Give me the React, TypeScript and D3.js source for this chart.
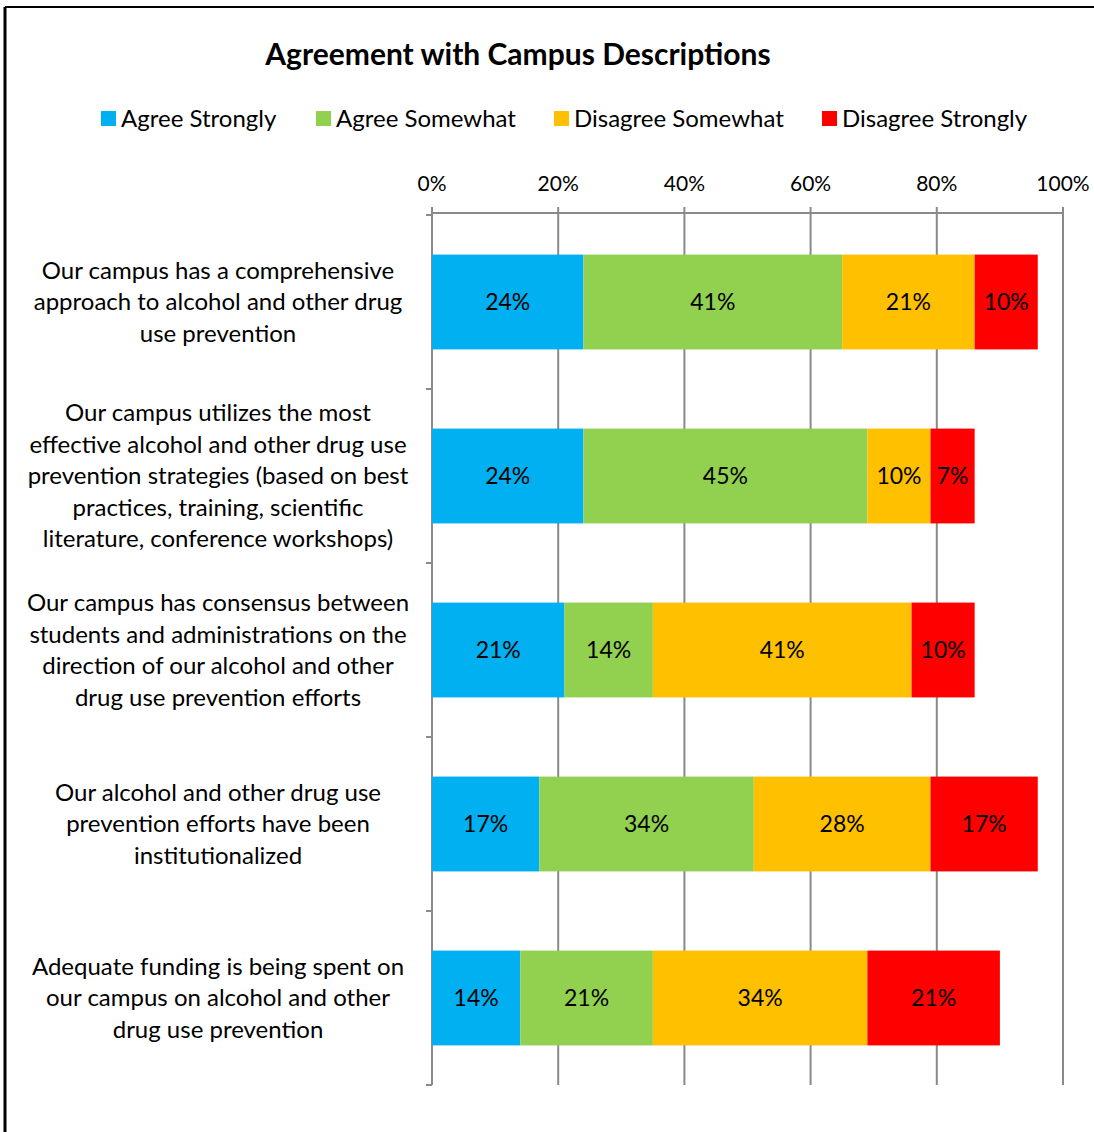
import React from "react";
import * as d3 from "d3";

const categories: string[][] = [
  ["Our campus has a comprehensive", "approach to alcohol and other drug", "use prevention"],
  [
    "Our campus utilizes the most",
    "effective alcohol and other drug use",
    "prevention strategies (based on best",
    "practices, training, scientific",
    "literature, conference workshops)",
  ],
  [
    "Our campus has consensus between",
    "students and administrations on the",
    "direction of our alcohol and other",
    "drug use prevention efforts",
  ],
  ["Our alcohol and other drug use", "prevention efforts have been", "institutionalized"],
  ["Adequate funding is being spent on", "our campus on alcohol and other", "drug use prevention"],
];

const seriesNames = ["Agree Strongly", "Agree Somewhat", "Disagree Somewhat", "Disagree Strongly"];
const agreeStrongly = [24, 24, 21, 17, 14];
const agreeSomewhat = [41, 45, 14, 34, 21];
const disagreeSomewhat = [21, 10, 41, 28, 34];
const disagreeStrongly = [10, 7, 10, 17, 21];
const seriesColors = ["#00B0F0", "#92D050", "#FFC000", "#FF0000"];
const xTicks = [0, 20, 40, 60, 80, 100];

const FONT = "Lato, 'Open Sans', sans-serif";

export default function App() {
  const W = 1094;
  const H = 1132;
  const x = d3.scaleLinear().domain([0, 100]).range([432, 1063]);
  const idx = categories.map((_, i) => String(i));
  const y = d3.scaleBand().domain(idx).range([215, 1085]).paddingInner(0.455).paddingOuter(0.2275);
  const bandStep = y.step();
  const rows = categories.map((_, i) => ({
    i: String(i),
    v0: agreeStrongly[i],
    v1: agreeSomewhat[i],
    v2: disagreeSomewhat[i],
    v3: disagreeStrongly[i],
  }));
  const stack = d3.stack<any>().keys(["v0", "v1", "v2", "v3"]);
  const stacked = stack(rows);
  const gridColor = "#8a8a8a";
  const boundaries = d3.range(categories.length + 1).map((k) => 215 + k * bandStep);

  const legendX = [101, 316, 554, 822];

  return (
    <svg
      width={W}
      height={H}
      style={{ position: "absolute", left: 0, top: 0, background: "#fff" }}
      fontFamily={FONT}
    >
      <rect x={0} y={0} width={W} height={H} fill="#fff" />
      {/* border */}
      <line x1={5} y1={7} x2={W} y2={7} stroke="#000" strokeWidth={2} />
      <line x1={5} y1={7} x2={5} y2={H} stroke="#000" strokeWidth={3} />

      <text x={518} y={65} textAnchor="middle" fontSize={30} fontWeight="bold" fill="#000">
        Agreement with Campus Descriptions
      </text>

      {seriesNames.map((name, k) => (
        <g key={name}>
          <rect x={legendX[k]} y={111} width={15} height={15} fill={seriesColors[k]} />
          <text x={legendX[k] + 20} y={127} fontSize={24} fill="#000">
            {name}
          </text>
        </g>
      ))}

      {/* gridlines */}
      {xTicks.map((t) => (
        <g key={t}>
          <line x1={x(t)} x2={x(t)} y1={207} y2={1085} stroke={gridColor} strokeWidth={2} />
          <text x={x(t)} y={191} textAnchor="middle" fontSize={21} fill="#000">
            {t}%
          </text>
        </g>
      ))}
      <line x1={x(0)} x2={x(100)} y1={213} y2={213} stroke={gridColor} strokeWidth={2} />
      {/* left axis ticks */}
      {boundaries.map((b, k) => (
        <line key={k} x1={426} x2={x(0)} y1={b} y2={b} stroke={gridColor} strokeWidth={2} />
      ))}

      {stacked.map((s, k) =>
        s.map((d: any, j: number) => (
          <g key={`${k}-${j}`}>
            <rect
              x={x(d[0])}
              y={y(String(j))}
              width={x(d[1]) - x(d[0])}
              height={y.bandwidth()}
              fill={seriesColors[k]}
            />
            <text
              x={(x(d[0]) + x(d[1])) / 2}
              y={(y(String(j)) as number) + y.bandwidth() / 2}
              dy="0.35em"
              textAnchor="middle"
              fontSize={23}
              fill="#000"
            >
              {`${d[1] - d[0]}%`}
            </text>
          </g>
        ))
      )}

      {categories.map((lines, j) => {
        const cy = (y(String(j)) as number) + y.bandwidth() / 2;
        const lh = 31.5;
        const start = cy - ((lines.length - 1) * lh) / 2;
        return (
          <text key={j} textAnchor="middle" fontSize={24} fill="#000">
            {lines.map((ln, m) => (
              <tspan key={m} x={218} y={start + m * lh} dy="0.35em">
                {ln}
              </tspan>
            ))}
          </text>
        );
      })}
    </svg>
  );
}
